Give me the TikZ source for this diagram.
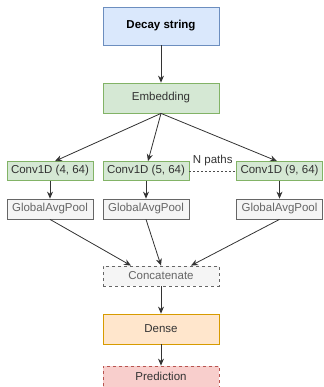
\documentclass[tikz,border=0pt]{standalone}
\usepackage{fontspec}
\setmainfont{Liberation Sans}
\usetikzlibrary{arrows.meta}
\definecolor{bluefill}{HTML}{DAE8FC}\definecolor{bluedraw}{HTML}{6C8EBF}
\definecolor{greenfill}{HTML}{D5E8D4}\definecolor{greendraw}{HTML}{82B366}
\definecolor{grayfill}{HTML}{F5F5F5}\definecolor{graydraw}{HTML}{666666}
\definecolor{orangefill}{HTML}{FFE6CC}\definecolor{orangedraw}{HTML}{D79B00}
\definecolor{redfill}{HTML}{F8CECC}\definecolor{reddraw}{HTML}{B85450}
\definecolor{txt}{HTML}{333333}
\begin{document}
\begin{tikzpicture}[x=1pt,y=-1pt,
  box/.style={draw, line width=0.8pt, inner sep=0pt, font=\fontsize{11.5}{13}\selectfont, text=txt},
  wide/.style={box, minimum width=116pt},
  narrow/.style={box, minimum width=86pt},
  arr/.style={-{Stealth[length=7pt,width=6pt]}, line width=0.8pt, draw=black!80}]
\useasboundingbox (0,0) rectangle (323,387);
\node[wide, minimum height=38pt, fill=bluefill, draw=bluedraw, font=\fontsize{11.5}{13}\selectfont\bfseries, text=black] (decay) at (161,26) {Decay string};
\node[wide, minimum height=30pt, fill=greenfill, draw=greendraw] (emb) at (161,98) {Embedding};
\node[narrow, minimum height=19pt, fill=greenfill, draw=greendraw] (c1) at (50,171) {Conv1D (4, 64)};
\node[narrow, minimum height=19pt, fill=greenfill, draw=greendraw] (c2) at (146,171) {Conv1D (5, 64)};
\node[narrow, minimum height=19pt, fill=greenfill, draw=greendraw] (c3) at (279.5,171) {Conv1D (9, 64)};
\node[narrow, minimum height=20pt, fill=grayfill, draw=graydraw, text=graydraw] (p1) at (50,209) {GlobalAvgPool};
\node[narrow, minimum height=20pt, fill=grayfill, draw=graydraw, text=graydraw] (p2) at (146,209) {GlobalAvgPool};
\node[narrow, minimum height=20pt, fill=grayfill, draw=graydraw, text=graydraw] (p3) at (279.5,209) {GlobalAvgPool};
\node[wide, minimum height=20pt, fill=grayfill, draw=graydraw, dashed, text=graydraw] (cat) at (161,276) {Concatenate};
\node[wide, minimum height=30pt, fill=orangefill, draw=orangedraw] (dense) at (161,329) {Dense};
\node[wide, minimum height=21pt, fill=redfill, draw=reddraw, dashed] (pred) at (161,376.5) {Prediction};
\draw[arr] (decay) -- (emb);
\draw[arr] (emb.south) -- (c1.north -| 55,0);
\draw[arr] (emb.south) -- (c2.north -| 148,0);
\draw[arr] (emb.south) -- (c3.north -| 277,0);
\draw[arr] (c1) -- (p1);
\draw[arr] (c2) -- (p2);
\draw[arr] (c3) -- (p3);
\draw[arr] (p1.south) -- (cat.north -| 131,0);
\draw[arr] (p2.south) -- (cat.north);
\draw[arr] (p3.south) -- (cat.north -| 191,0);
\draw[arr] (cat) -- (dense);
\draw[arr] (dense) -- (pred);
\draw[dashed, dash pattern=on 2pt off 2pt, line width=0.8pt, draw=black!70] (c2.east) -- node[above=1pt, font=\fontsize{11.5}{13}\selectfont, text=txt] (np) {N paths} (c3.west);
\end{tikzpicture}
\end{document}
